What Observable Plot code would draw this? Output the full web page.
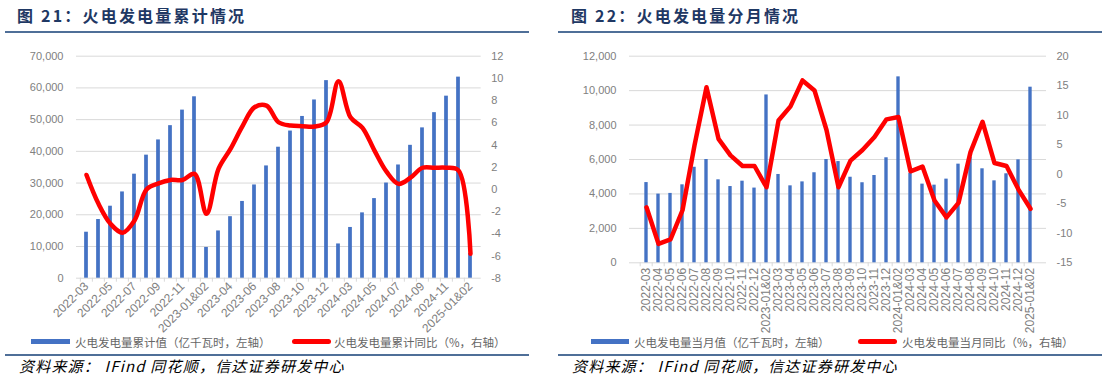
<!DOCTYPE html>
<html><head><meta charset="utf-8">
<script src="https://cdn.jsdelivr.net/npm/d3@7"></script>
<script src="https://cdn.jsdelivr.net/npm/@observablehq/plot@0.6"></script>
<style>
html,body{margin:0;padding:0;background:#fff}
body{width:1102px;height:380px;position:relative;overflow:hidden;font-family:"Noto Sans CJK SC","Liberation Sans",sans-serif}
.title{position:absolute;top:4px;font-size:16px;font-weight:bold;color:#1f3864;white-space:nowrap;line-height:22px;letter-spacing:2.2px}
.rule{position:absolute;height:2px;background:#4f6f98}
.src{position:absolute;top:356px;font-style:italic;font-size:15px;color:#000;white-space:nowrap;line-height:20px;letter-spacing:1.2px}
.chart{position:absolute;top:40px}
.sw{position:absolute;height:5px}
.lt{position:absolute;font-size:11.5px;color:#666;white-space:nowrap;line-height:16px;top:334px}
</style></head><body>
<div class="title" style="left:17px">图 21：火电发电量累计情况</div>
<div class="title" style="left:571px">图 22：火电发电量分月情况</div>
<div class="rule" style="left:5px;width:524px;top:31px"></div>
<div class="rule" style="left:558px;width:544px;top:31px"></div>
<div id="c1" class="chart" style="left:0px"></div>
<div id="c2" class="chart" style="left:550px"></div>
<div class="sw" style="left:31px;width:39px;top:339px;background:#4472c4"></div>
<div class="lt" style="left:75px">火电发电量累计值（亿千瓦时，左轴）</div>
<div class="sw" style="left:292px;width:39px;top:339px;background:#ff0000;border-radius:3px"></div>
<div class="lt" style="left:334px">火电发电量累计同比（%，右轴）</div>
<div class="sw" style="left:591px;width:38px;top:339px;background:#4472c4"></div>
<div class="lt" style="left:634px">火电发电量当月值（亿千瓦时，左轴）</div>
<div class="sw" style="left:858px;width:39px;top:339px;background:#ff0000;border-radius:3px"></div>
<div class="lt" style="left:902px">火电发电量当月同比（%，右轴）</div>
<div class="rule" style="left:5px;width:524px;top:354px"></div>
<div class="rule" style="left:558px;width:544px;top:354px"></div>
<div class="src" style="left:19px">资料来源： IFind 同花顺，信达证券研发中心</div>
<div class="src" style="left:572px">资料来源： IFind 同花顺，信达证券研发中心</div>
<script>
// ---- data ----
const categories = [
  "2022-03","2022-04","2022-05","2022-06","2022-07","2022-08","2022-09","2022-10","2022-11","2022-12",
  "2023-01&02","2023-03","2023-04","2023-05","2023-06","2023-07","2023-08","2023-09","2023-10","2023-11","2023-12",
  "2024-01&02","2024-03","2024-04","2024-05","2024-06","2024-07","2024-08","2024-09","2024-10","2024-11","2024-12",
  "2025-01&02"
];
const cumulativeValue = [14500,18500,22700,27200,32800,38800,43600,48100,53000,57200,
  9700,14900,19400,24200,29400,35400,41300,46400,51000,56200,62300,
  10800,16000,20600,25100,30000,35700,41900,47400,52200,57400,63400,
  7800];
const cumulativeYoY = [1.3,-1.3,-3.1,-3.9,-2.8,0.0,0.55,0.85,0.85,1.4,
  -2.2,1.85,3.65,5.7,7.4,7.55,6.05,5.75,5.7,5.67,6.05,
  9.75,6.5,5.55,3.5,1.6,0.5,1.05,1.95,1.95,1.95,1.7,
  -5.8];
const monthlyValue = [4660,3990,4030,4530,5550,6000,4820,4430,4740,4340,
  9750,5130,4470,4700,5230,6000,5880,4970,4650,5070,6100,
  10800,5200,4570,4510,4860,5730,6130,5460,4760,5170,5980,
  10200];
const monthlyYoY = [-5.6,-11.8,-11.05,-6.1,4.9,14.75,6.0,3.2,1.4,1.4,
  -2.2,9.1,11.5,15.9,14.2,7.5,-2.2,2.3,4.1,6.3,9.3,
  9.7,0.5,1.3,-4.45,-7.3,-4.85,3.75,8.9,1.9,1.4,-2.6,
  -5.85];
const leftTicks1 = [0,10000,20000,30000,40000,50000,60000,70000];
const rightTicks1 = [-8,-6,-4,-2,0,2,4,6,8,10,12];
const leftTicks2 = [0,2000,4000,6000,8000,10000,12000];
const rightTicks2 = [-15,-10,-5,0,5,10,15,20];

function panel(o) {
  const lmax = o.leftTicks[o.leftTicks.length-1];
  const rmin = o.rightTicks[0], rmax = o.rightTicks[o.rightTicks.length-1];
  const toL = r => (r - rmin) / (rmax - rmin) * lmax;
  const fromL = l => l / lmax * (rmax - rmin) + rmin;
  const rows = o.cats.map((c, i) => ({c, v: o.bars[i], r: o.yoy[i]}));
  const step = (o.width - o.ml - o.mr) / o.cats.length;
  const inset = (step - 4) / 2;
  return Plot.plot({
    width: o.width, height: o.height,
    marginLeft: o.ml, marginRight: o.mr, marginTop: o.mt, marginBottom: o.mb,
    style: {fontFamily: "'Liberation Sans','Noto Sans CJK SC',sans-serif", fontSize: "11px", color: "#808080", background: "transparent", overflow: "visible"},
    x: {type: "band", domain: o.cats, padding: 0, axis: null, label: null},
    y: {domain: [0, lmax], axis: null, label: null},
    marks: [
      Plot.gridY(o.leftTicks.slice(1), {stroke: "#d9d9d9", strokeOpacity: 1, strokeWidth: 1}),
      Plot.ruleY([0], {stroke: "#d9d9d9"}),
      Plot.axisX(o.cats, {tickSize: 4, dx: -step / 2, tickFormat: () => "", stroke: "#d9d9d9", label: null}),
      Plot.barY(rows, {x: "c", y: "v", fill: "#4472c4", insetLeft: inset, insetRight: inset}),
      Plot.line(rows, {x: "c", y: d => toL(d.r), stroke: "#ff0000", strokeWidth: 4.5, curve: o.curve, strokeLinejoin: "round", strokeLinecap: "round"}),
      Plot.axisY(o.leftTicks, {anchor: "left", tickSize: 0, tickPadding: 13, tickFormat: d3.format(","), fontSize: 11, label: null}),
      Plot.axisY(o.rightTicks.map(toL), {anchor: "right", tickSize: 0, tickPadding: o.rpad, tickFormat: d => String(Math.round(fromL(d))), fontSize: 11, label: null}),
      Plot.axisX(o.cats.filter((d, i) => i % o.every === 0), {anchor: "bottom", tickSize: 0, tickPadding: o.xpad, tickRotate: o.rotate, fontSize: 12, label: null})
    ]
  });
}

document.getElementById("c1").append(panel({
  cats: categories, bars: cumulativeValue, yoy: cumulativeYoY,
  leftTicks: leftTicks1, rightTicks: rightTicks1,
  width: 530, height: 295, ml: 76, mr: 49.3, mt: 15.7, mb: 57.3,
  rpad: 10, xpad: 6, rotate: -45, every: 2, curve: "catmull-rom"
}));
document.getElementById("c2").append(panel({
  cats: categories, bars: monthlyValue, yoy: monthlyYoY,
  leftTicks: leftTicks2, rightTicks: rightTicks2,
  width: 552, height: 295, ml: 79, mr: 56, mt: 15.7, mb: 72.7,
  rpad: 10, xpad: 5, rotate: -90, every: 1, curve: "linear"
}));
</script>
</body></html>
